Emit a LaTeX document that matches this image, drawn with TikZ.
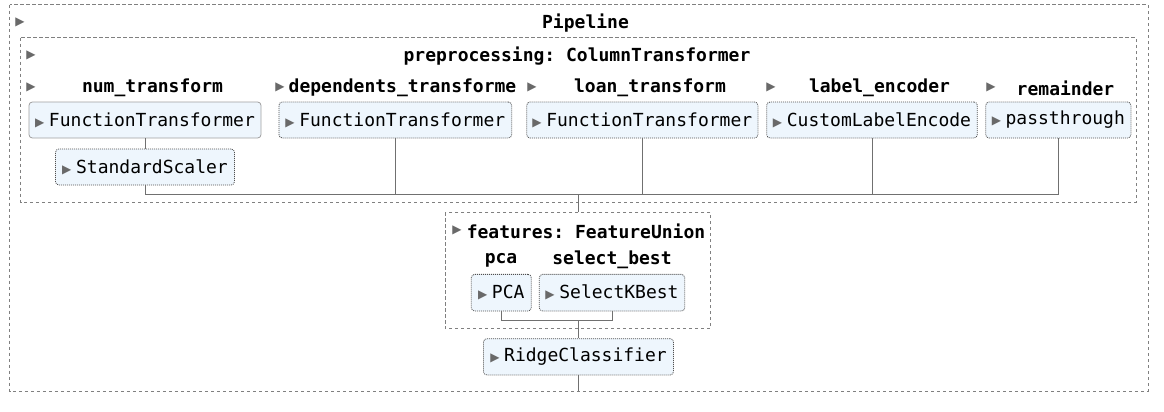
\documentclass[tikz,border=0pt]{standalone}
\usepackage{fontspec}
\setmonofont{DejaVu Sans Mono}
\newfontfamily\symfont{DejaVu Sans}
\definecolor{linegray}{HTML}{707070}
\definecolor{dashgray}{HTML}{808080}
\definecolor{arrowgray}{HTML}{696969}
\definecolor{skblue}{HTML}{EEF6FD}
\definecolor{bordgray}{HTML}{505050}
\definecolor{solidgray}{HTML}{A0A0A0}
\newcommand\fsz{\fontsize{13.5pt}{16pt}\selectfont}
\newcommand\boxarrow{{\symfont\color{arrowgray}\fontsize{9pt}{9pt}\selectfont ▶}\hspace{3.5pt}}
\tikzset{
  lbl/.style={font=\ttfamily\bfseries\fsz, inner sep=0pt, text=black, yshift=-1.5pt},
  tri/.style={font=\symfont\fontsize{9pt}{9pt}\selectfont, text=arrowgray, inner sep=0pt},
  est/.style={draw=bordgray, dash pattern=on 0.75pt off 0.75pt, fill=skblue, rounded corners=2.5pt,
    line width=0.6pt, inner sep=0pt, minimum height=27pt, font=\ttfamily\fsz, text=black},
  estsolid/.style={est, draw=solidgray, solid},
  wpx/.style={minimum width=#1*0.75pt},
  hpx/.style={minimum height=#1*0.75pt},
  group/.style={draw=dashgray, dash pattern=on 2.6pt off 1.9pt, line width=0.6pt},
  conn/.style={draw=linegray, line width=0.75pt},
}
\begin{document}
\begin{tikzpicture}[x=0.75pt, y=-0.75pt]
\useasboundingbox (0,0) rectangle (1164,411);
% outer pipeline box
\draw[group] (9.5,4.5) rectangle (1148,391);
\node[tri] (tp) at (20,22) {▶};
\node[lbl] (pipe) at (585.5,21) {Pipeline};
% preprocessing box
\draw[group] (20.5,37.5) rectangle (1136,202);
\node[tri] (tpre) at (31,55) {▶};
\node[lbl] (pre) at (577,54) {preprocessing: ColumnTransformer};
% row labels
\node[tri] (t1) at (31,87) {▶};
\node[lbl] (l1) at (152.5,86) {num\_transform};
\node[tri] (t2) at (280,87) {▶};
\node[lbl] (l2) at (402.5,86) {dependents\_transforme};
\node[tri] (t3) at (532,87) {▶};
\node[lbl] (l3) at (650,86) {loan\_transform};
\node[tri] (t4) at (771,87) {▶};
\node[lbl] (l4) at (879.5,86) {label\_encoder};
\node[tri] (t5) at (991,87) {▶};
\node[lbl] (l5) at (1065.5,86) {remainder};
% estimator boxes
\node[estsolid, wpx=232] (b1) at (145,120) {\boxarrow FunctionTransformer};
\node[est, wpx=232.7] (b2) at (395.3,120) {\boxarrow FunctionTransformer};
\node[est, wpx=231.3] (b3) at (642.3,120) {\boxarrow FunctionTransformer};
\node[est, wpx=210.6] (b4) at (872,120) {\boxarrow CustomLabelEncode};
\node[est, wpx=145.3] (b5) at (1058.3,120) {\boxarrow passthrough};
\node[est, wpx=179] (ss) at (145,167) {\boxarrow StandardScaler};
% connectors in preprocessing
\coordinate (jy) at (0,194);
\draw[conn] (b1.south) -- (ss.north);
\draw[conn] (ss.south) |- (b5.south |- jy) -- (b5.south);
\draw[conn] (b2.south) -- (b2.south |- jy);
\draw[conn] (b3.south) -- (b3.south |- jy);
\draw[conn] (b4.south) -- (b4.south |- jy);
% features box
\draw[group] (445,212.3) rectangle (710.7,328.3);
\coordinate (ftop) at (578.5,212.3);
\draw[conn] (ftop |- jy) -- (ftop);
\node[tri] (tf) at (457,230) {▶};
\node[lbl] (feat) at (586,229) {features: FeatureUnion};
\node[lbl] (lpca) at (501,258) {pca};
\node[lbl] (lsel) at (612,258) {select\_best};
\node[est, wpx=60, hpx=36.7] (pca) at (501.3,292.7) {\boxarrow PCA};
\node[est, wpx=145.4, hpx=36.7] (skb) at (612,292.7) {\boxarrow SelectKBest};
\coordinate (fy) at (0,320);
\draw[conn] (pca.south) |- (skb.south |- fy) -- (skb.south);
\node[est, wpx=190, hpx=36.3] (ridge) at (578.5,356.8) {\boxarrow RidgeClassifier};
\draw[conn] (ridge.north |- fy) -- (ridge.north);
\coordinate (pbot) at (578.5,391);
\draw[conn] (ridge.south) -- (pbot);
\end{tikzpicture}
\end{document}
